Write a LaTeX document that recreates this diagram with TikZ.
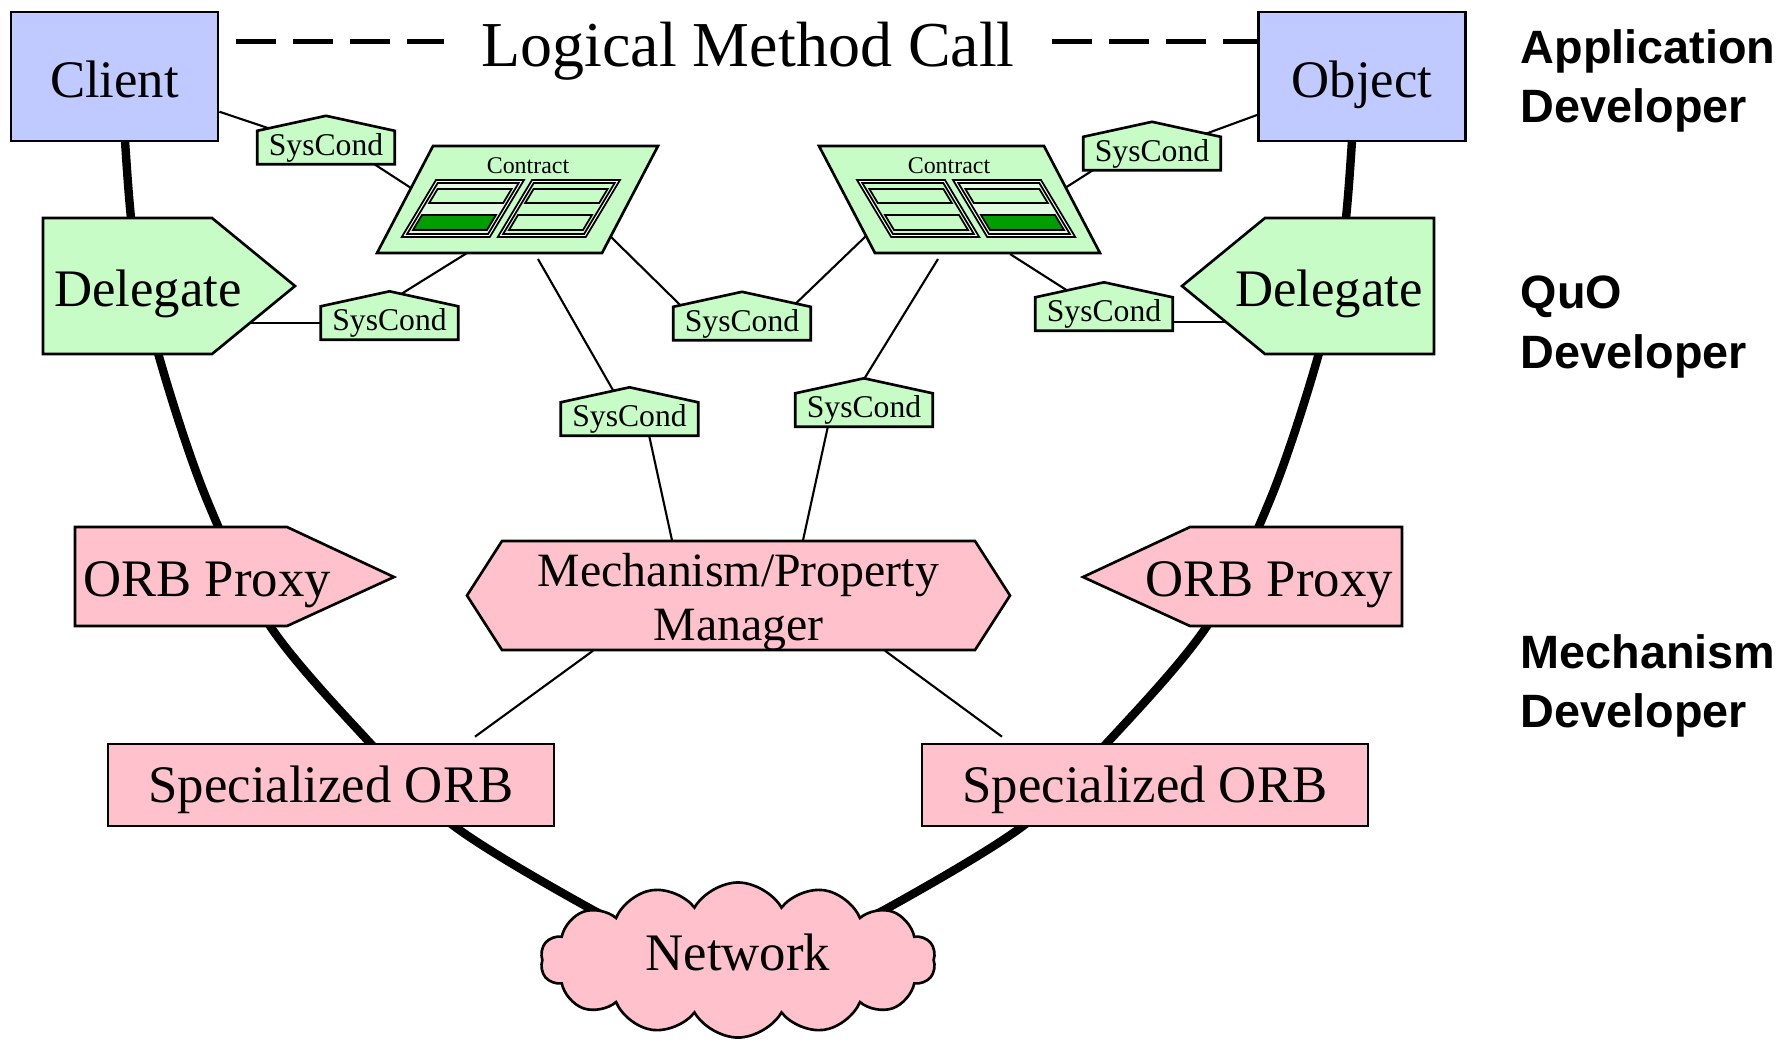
\documentclass[tikz,border=0pt]{standalone}
\usepackage{fontspec}
\setmainfont{Liberation Serif}
\newfontfamily\labfont{Liberation Sans}
\usetikzlibrary{shapes.symbols,calc}
\definecolor{qblue}{RGB}{193,202,255}
\definecolor{qgreen}{RGB}{199,252,199}
\definecolor{qpale}{RGB}{226,250,226}
\definecolor{qdark}{RGB}{0,158,0}
\definecolor{qpink}{RGB}{255,193,204}
\pgfdeclarelayer{bg}
\pgfsetlayers{bg,main}

\newcommand{\qpara}[6]{\filldraw[#6] (#1,#2) -- ({#1+#3},#2) -- ({#1+#3-#5*(#4-#2)},#4) -- ({#1-#5*(#4-#2)},#4) -- cycle;}
\newcommand{\contractbody}{%
 \qpara{433}{146}{225}{253}{0.523}{shp, fill=qgreen}
 \qpara{436}{180}{88}{237}{0.6}{thinl, fill=white}
 \qpara{437.7}{183}{81}{234}{0.6}{thinl, fill=qpale}
 \qpara{437.6}{189}{74}{203}{0.6}{thinl, fill=qgreen}
 \qpara{422}{215}{74}{230}{0.6}{thinl, fill=qdark}
 \qpara{532}{180}{88}{237}{0.6}{thinl, fill=white}
 \qpara{533.7}{183}{81}{234}{0.6}{thinl, fill=qgreen}
 \qpara{533.6}{189}{74}{203}{0.6}{thinl, fill=qgreen}
 \qpara{518}{215}{74}{230}{0.6}{thinl, fill=qgreen}
}
\newcommand{\syscond}[3]{%
 \path node[scbody] (#1) at (#2,#3) {};
 \filldraw[shp, fill=qgreen] (#1.south west) -- (#1.north west) -- ($(#1.north)+(0,-15)$) -- (#1.north east) -- (#1.south east) -- cycle;
 \node[sctext] (#1-t) at (#1) {SysCond};
}

\begin{document}
\begin{tikzpicture}[x=0.01cm, y=-0.01cm,
  shp/.style={draw=black, line width=0.75pt},
  thinl/.style={draw=black, line width=0.5pt},
  conn/.style={draw=black, line width=0.6pt},
  curve/.style={draw=black, line width=2.4pt},
  dashline/.style={draw=black, line width=1.3pt, dash pattern=on 0.4cm off 0.17cm},
  big/.style={font=\fontsize{15}{18}\selectfont},
  txt/.style={big, anchor=base, inner sep=0pt},
  boxnode/.style={shp, rectangle, inner sep=0pt, big, text depth=0pt},
  scbody/.style={rectangle, minimum width=1.36cm, minimum height=0.32cm, inner sep=0pt},
  sctext/.style={inner sep=0pt, font=\fontsize{9}{10}\selectfont},
  cfont/.style={inner sep=0pt, font=\fontsize{6.8}{8}\selectfont},
  lab/.style={anchor=west, align=left, inner sep=0pt, font=\labfont\bfseries\fontsize{13.3}{16.8}\selectfont}
]
\useasboundingbox (0,0) rectangle (1781,1041);

% title
\node[anchor=base, inner ysep=0pt, inner xsep=0.37cm, font=\fontsize{18.2}{22}\selectfont] (title) at (748,66) {Logical Method Call};

% client / object
\node[boxnode, fill=qblue, minimum width=2.07cm, minimum height=1.29cm, text height=11.7pt] (client) at (114.5,76.5) {Client};
\node[boxnode, fill=qblue, minimum width=2.07cm, minimum height=1.29cm, text height=11.7pt] (object) at (1362,76.5) {Object};
\coordinate (dl) at ($(client.north east)+(17,31)$);
\draw[dashline] (dl) -- (title.west |- dl);
\draw[dashline] (title.east |- dl) -- (object.west |- dl);

% delegates
\filldraw[shp, fill=qgreen] (43,218) -- (212,218) -- (295,286) -- (212,354) -- (43,354) -- cycle;
\node[txt] (delL) at (148,306) {Delegate};
\filldraw[shp, fill=qgreen] (1434,218) -- (1265,218) -- (1182,286) -- (1265,354) -- (1434,354) -- cycle;
\node[txt] (delR) at (1329,306) {Delegate};

% ORB proxies
\filldraw[shp, fill=qpink] (75,527) -- (287,527) -- (394,577) -- (287,626) -- (75,626) -- cycle;
\node[txt] (orbL) at (207,596) {ORB Proxy};
\filldraw[shp, fill=qpink] (1402,527) -- (1190,527) -- (1083,577) -- (1190,626) -- (1402,626) -- cycle;
\node[txt] (orbR) at (1269,596) {ORB Proxy};

% manager
\filldraw[shp, fill=qpink] (467,595.5) -- (502,541) -- (975,541) -- (1010,595.5) -- (975,650) -- (502,650) -- cycle;
\path node[rectangle, minimum width=4.73cm, minimum height=1.09cm, inner sep=0pt] (mgr) at (738.5,595.5) {};
\node[inner sep=0pt, align=center, font=\fontsize{13.6}{15.6}\selectfont] (mgrt) at (738.5,602) {Mechanism/Property\\Manager};

% specialized ORBs
\node[boxnode, fill=qpink, minimum width=4.46cm, minimum height=0.82cm, text height=10.2pt] (specL) at (331,785) {Specialized ORB};
\node[boxnode, fill=qpink, minimum width=4.46cm, minimum height=0.82cm, text height=10.2pt] (specR) at (1145,785) {Specialized ORB};

% network
\node[cloud, shp, fill=qpink, cloud puffs=14, cloud puff arc=120, aspect=2.5, minimum width=3.95cm, minimum height=1.55cm, inner sep=0pt, big, text height=5.7pt, text depth=0pt] (net) at (738,960) {Network};

% contracts
\contractbody
\node[cfont] (conL) at (528,166) {Contract};
\begin{scope}[shift={(1477,0)}, xscale=-1]
\contractbody
\end{scope}
\node[cfont] (conR) at (949,166) {Contract};
\coordinate (cL1) at (411,188);
\coordinate (cL2) at (467,253);
\coordinate (cL3) at (538,259);
\coordinate (cL4) at (609,235);
\coordinate (cR1) at (1065,188);
\coordinate (cR2) at (1010,254);
\coordinate (cR3) at (938,259);
\coordinate (cR4) at (867,235);

% sysconds
\syscond{sc1}{326}{147.5}
\syscond{sc2}{389.5}{323}
\syscond{sc3}{629.5}{419}
\syscond{sc4}{742}{323.5}
\syscond{sc5}{864}{410}
\syscond{sc6}{1152}{153.5}
\syscond{sc7}{1104}{314}

% role labels
\node[lab] (lab1) at (1520,80.5) {Application\\Developer};
\node[lab] (lab2) at (1520,327) {QuO\\Developer};
\node[lab] (lab3) at (1520,685.5) {Mechanism\\Developer};

\begin{pgfonlayer}{bg}
\draw[curve] plot[smooth, tension=0.55] coordinates {(124,100) (125,141) (135,250) (160,360) (207,500) (270,626) (371,744) (454,826) (591,909) (650,935)};
\draw[curve] plot[smooth, tension=0.55] coordinates {(1353,100) (1352,141) (1342,250) (1317,360) (1270,500) (1207,626) (1106,744) (1023,826) (886,909) (827,935)};
\draw[conn] (client) -- (sc1);
\draw[conn] ($(sc1)+(35,8)$) -- (cL1);
\draw[conn] (cL2) -- ($(sc2)+(-35,0)$);
\draw[conn] (delL.center |- sc2) -- (sc2);
\draw[conn] (cL3) -- (sc3);
\draw[conn] (cL4) -- ($(sc4)+(-43,0)$);
\draw[conn] ($(sc3)+(16,0)$) -- ($(mgr.north)+(-66.5,0)$);
\draw[conn] ($(sc4)+(33,0)$) -- (cR4);
\draw[conn] (cR3) -- ($(sc5)+(-19,0)$);
\draw[conn] ($(sc5)+(-32.5,0)$) -- ($(mgr.north)+(64.5,0)$);
\draw[conn] (cR2) -- (sc7);
\draw[conn] ($(sc7)+(0,8)$) -- ($(sc7)+(150,8)$);
\draw[conn] (cR1) -- ($(sc6)+(-33,0)$);
\draw[conn] (sc6) -- (object);
\draw[conn] ($(mgr.south)+(-145.5,0)$) -- ($(specL.north)+(144,-6)$);
\draw[conn] ($(mgr.south)+(146.5,0)$) -- ($(specR.north)+(-143,-6)$);
\end{pgfonlayer}
\end{tikzpicture}
\end{document}
